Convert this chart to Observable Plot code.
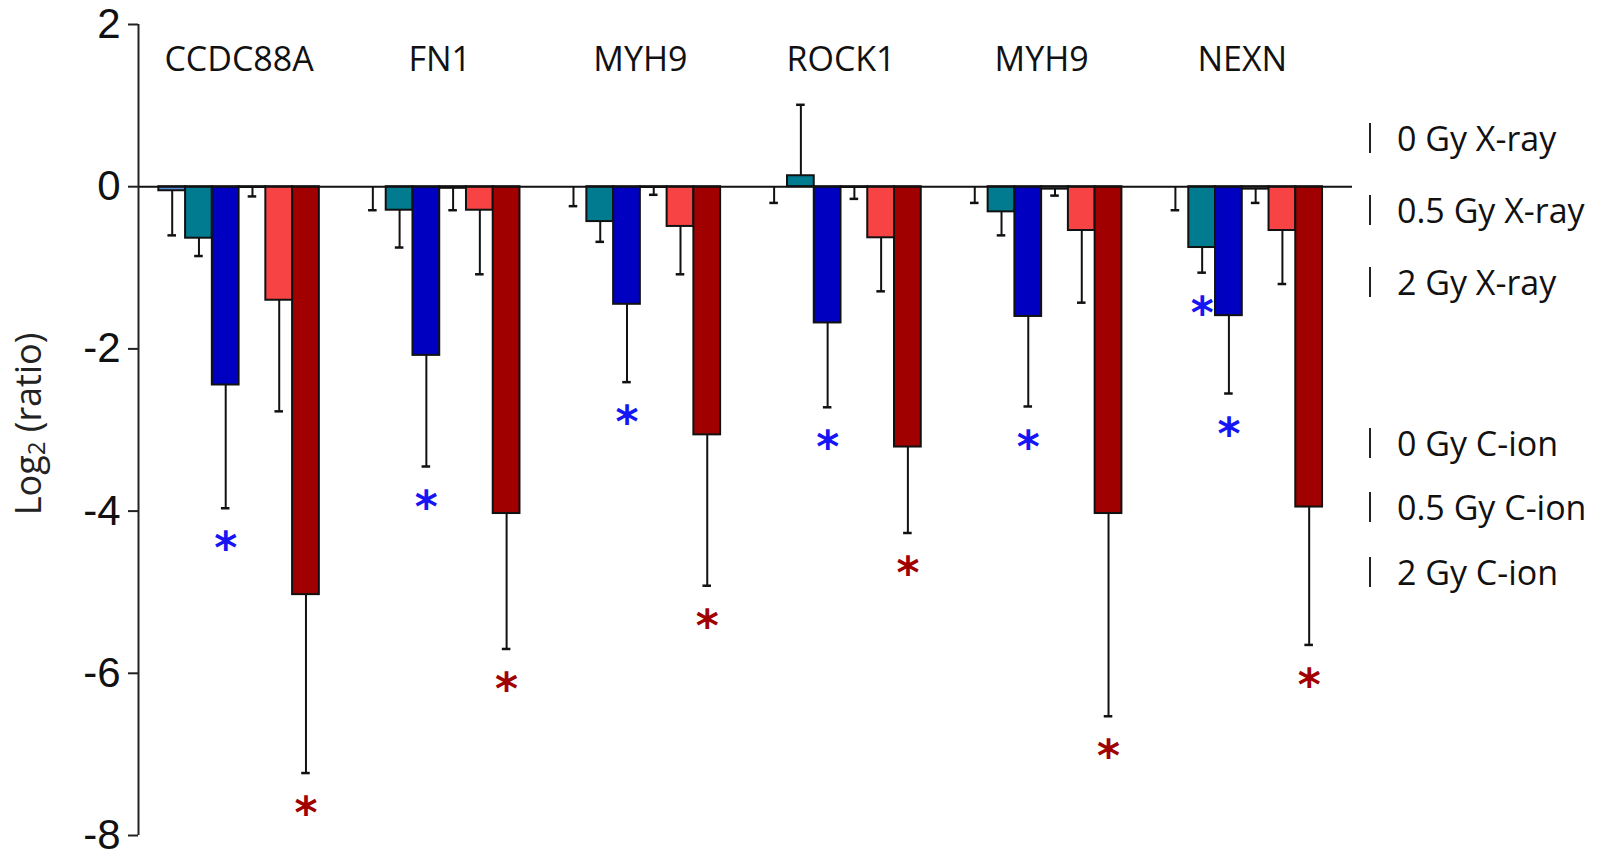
<!DOCTYPE html>
<html>
<head>
<meta charset="utf-8">
<script src="https://cdn.jsdelivr.net/npm/d3@7"></script>
<script src="https://cdn.jsdelivr.net/npm/@observablehq/plot@0.6"></script>
<style>
  html, body { margin: 0; padding: 0; background: #fff; }
  #wrap { position: relative; width: 1603px; height: 850px; overflow: hidden; }
  #wrap svg { position: absolute; left: 0; top: 0; }
  .leg { position: absolute; font-family: "Open Sans", sans-serif; font-size: 34px; color: #111; line-height: 40px; white-space: nowrap; }
  .legmark { position: absolute; width: 0; height: 30px; border-left: 2px solid #222; }
</style>
</head>
<body>
<div id="wrap"></div>
<script>
// ---- data ----
const genes = ["CCDC88A", "FN1", "MYH9", "ROCK1", "MYH9", "NEXN"];
const seriesNames = ["0 Gy X-ray", "0.5 Gy X-ray", "2 Gy X-ray", "0 Gy C-ion", "0.5 Gy C-ion", "2 Gy C-ion"];
const seriesColors = ["#5B8FE0", "#007B8F", "#0000C0", "#FFFFFF", "#F74343", "#A00000"];
const starColors = ["#1515F5", "#1515F5", "#1515F5", "#A00000", "#A00000", "#A00000"];

// log2 ratio means per series (one value per gene)
const mean0GyX  = [-0.05, 0, 0, 0, 0, 0];
const mean05GyX = [-0.635, -0.29, -0.43, 0.135, -0.31, -0.75];
const mean2GyX  = [-2.445, -2.08, -1.45, -1.68, -1.60, -1.59];
const mean0GyC  = [-0.01, -0.02, -0.01, -0.01, -0.03, -0.03];
const mean05GyC = [-1.40, -0.29, -0.49, -0.63, -0.54, -0.54];
const mean2GyC  = [-5.03, -4.03, -3.06, -3.21, -4.03, -3.95];

// error bar lengths
const err0GyX  = [0.55, 0.29, 0.24, 0.20, 0.20, 0.29];
const err05GyX = [0.22, 0.46, 0.25, 0.875, 0.29, 0.31];
const err2GyX  = [1.52, 1.37, 0.96, 1.04, 1.11, 0.96];
const err0GyC  = [0.11, 0.27, 0.09, 0.14, 0.08, 0.17];
const err05GyC = [1.37, 0.79, 0.59, 0.66, 0.89, 0.66];
const err2GyC  = [2.20, 1.67, 1.86, 1.06, 2.50, 1.70];

// significance (asterisk) flags
const sig0GyX  = [0, 0, 0, 0, 0, 0];
const sig05GyX = [0, 0, 0, 0, 0, 1];
const sig2GyX  = [1, 1, 1, 1, 1, 1];
const sig0GyC  = [0, 0, 0, 0, 0, 0];
const sig05GyC = [0, 0, 0, 0, 0, 0];
const sig2GyC  = [1, 1, 1, 1, 1, 1];

const yTicks = [2, 0, -2, -4, -6, -8];

// ---- build table ----
const means = [mean0GyX, mean05GyX, mean2GyX, mean0GyC, mean05GyC, mean2GyC];
const errs  = [err0GyX, err05GyX, err2GyX, err0GyC, err05GyC, err2GyC];
const sigs  = [sig0GyX, sig05GyX, sig2GyX, sig0GyC, sig05GyC, sig2GyC];

const pitch = 7.5; // group pitch in bar widths
const rows = [];
means.forEach((arr, si) => arr.forEach((v, gi) => {
  const e = errs[si][gi];
  const x1 = gi * pitch + si;
  rows.push({
    gene: genes[gi], gi, si, value: v, err: e,
    end: v > 0 ? v + e : v - e,
    x1, x2: x1 + 1, xc: x1 + 0.5,
    fill: seriesColors[si], starFill: starColors[si],
    star: sigs[si][gi] === 1
  });
}));
const labels = genes.map((g, gi) => ({gene: g, xc: gi * pitch + seriesNames.length / 2}));
const xDomain = [-0.76, 44.62];

const chart = Plot.plot({
  width: 1603,
  height: 850,
  marginLeft: 138,
  marginRight: 251,
  marginTop: 24,
  marginBottom: 15,
  style: {background: "transparent", overflow: "visible"},
  x: {type: "linear", domain: xDomain, axis: null},
  y: {domain: [-8, 2], axis: null},
  color: {type: "identity"},
  marks: [
    Plot.rectY(rows, {x1: "x1", x2: "x2", y1: 0, y2: "value", fill: "fill", stroke: "#111", strokeWidth: 2}),
    Plot.ruleX(rows, {x: "xc", y1: "value", y2: "end", stroke: "#111", strokeWidth: 2}),
    Plot.ruleY(rows, {y: "end", x1: d => d.xc - 0.16, x2: d => d.xc + 0.16, stroke: "#111", strokeWidth: 2.5}),
    Plot.ruleY([0], {stroke: "#111", strokeWidth: 2}),
    Plot.ruleX([xDomain[0]], {stroke: "#222", strokeWidth: 2}),
    Plot.axisY({ticks: yTicks, tickFormat: d => String(d), tickSize: 10, tickPadding: 8, fontSize: 42,
      fontFamily: "Liberation Sans, Arial, sans-serif", stroke: "#222", strokeWidth: 2, fill: "#111", label: null}),
    Plot.text(rows.filter(d => d.star), {x: "xc", y: "end", text: () => "*", dy: 41, fill: "starFill",
      fontSize: 44, fontWeight: "bold", fontFamily: "DejaVu Sans, sans-serif"}),
    Plot.text(labels, {x: "xc", frameAnchor: "top", dy: 22, text: "gene", fontSize: 34,
      fontFamily: "Open Sans, sans-serif", fill: "#111"})
  ]
});

const wrap = document.getElementById("wrap");
wrap.appendChild(chart);

// y-axis title with subscript
const svg = d3.select(chart);
const t = svg.append("text")
  .attr("transform", "translate(31,424) rotate(-90)")
  .attr("text-anchor", "middle")
  .attr("dominant-baseline", "middle")
  .attr("font-family", "Open Sans, sans-serif")
  .attr("font-size", 36)
  .attr("fill", "#222");
t.append("tspan").text("Log");
t.append("tspan").attr("font-size", 24).attr("dy", 8).text("2");
t.append("tspan").attr("dy", -8).text(" (ratio)");

// legend
const legendY = [138, 210, 282, 443, 507, 572];
seriesNames.forEach((name, i) => {
  const m = document.createElement("div");
  m.className = "legmark";
  m.style.left = "1369px";
  m.style.top = (legendY[i] - 15) + "px";
  wrap.appendChild(m);
  const d = document.createElement("div");
  d.className = "leg";
  d.style.left = "1397px";
  d.style.top = (legendY[i] - 20) + "px";
  d.textContent = name;
  wrap.appendChild(d);
});
</script>
</body>
</html>
